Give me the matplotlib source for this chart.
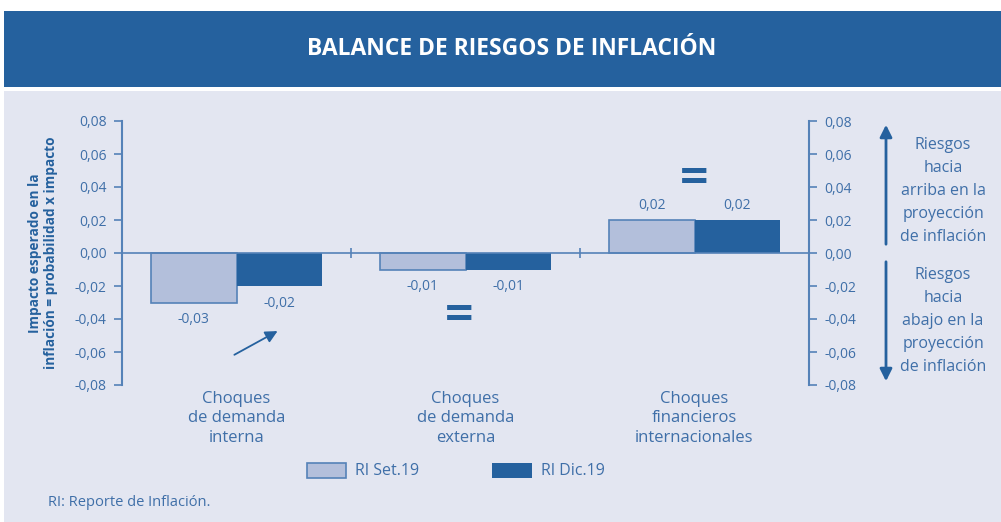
import numpy as np
import matplotlib
matplotlib.use('Agg')
import matplotlib.pyplot as plt
from matplotlib.patches import Rectangle, FancyArrowPatch

# datos
categorias = ["Choques\nde demanda\ninterna", "Choques\nde demanda\nexterna",
              "Choques\nfinancieros\ninternacionales"]
ri_set19 = [-0.03, -0.01, 0.02]
ri_dic19 = [-0.02, -0.01, 0.02]
etiq_set = ["-0,03", "-0,01", "0,02"]
etiq_dic = ["-0,02", "-0,01", "0,02"]
yticks = [-0.08, -0.06, -0.04, -0.02, 0.0, 0.02, 0.04, 0.06, 0.08]

azul = '#25619E'
claro = '#B3BFDB'
borde = '#5582B8'
texto = '#3F6FA8'
fondo = '#E3E6F1'

plt.rcParams['font.family'] = ['Open Sans', 'DejaVu Sans']

W, H = 1001, 522
fig = plt.figure(figsize=(W/100, H/100), dpi=100)
fig.patch.set_facecolor('white')
fig.patches.append(Rectangle((4/W, 0), 1, 1 - 91/H, transform=fig.transFigure,
                             facecolor=fondo, edgecolor='none', zorder=-2))
fig.patches.append(Rectangle((4/W, 1 - 87/H), 1, 76/H, transform=fig.transFigure,
                             facecolor=azul, edgecolor='none', zorder=-2))
fig.text(512/W, 1 - 49/H, "BALANCE DE RIESGOS DE INFLACIÓN", color='white',
         fontsize=16.5, fontweight='bold', ha='center', va='center')

def fmt(t):
    s = f"{t:.2f}".replace('.', ',')
    return '0,00' if s == '-0,00' else s

ax = fig.add_axes([122/W, 1 - 385/H, (809 - 122)/W, (385 - 121)/H])
ax.set_facecolor('none')
x = np.arange(len(categorias))
w = 0.375
ax.bar(x - w/2, ri_set19, w, color=claro, edgecolor=borde, linewidth=1.2, zorder=2)
ax.bar(x + w/2, ri_dic19, w, color=azul, edgecolor='none', zorder=2)
ax.axhline(0, color=borde, lw=1.2, zorder=3)
ax.plot(x[:-1] + 0.5, np.zeros(len(x) - 1), ls='none', marker='|', ms=7,
        mew=1.2, color=borde, zorder=3)

for i in range(len(x)):
    for xv, v, t in [(x[i] - w/2, ri_set19[i], etiq_set[i]), (x[i] + w/2, ri_dic19[i], etiq_dic[i])]:
        off = 0.0045 if v > 0 else -0.006
        ax.text(xv, v + off, t, ha='center', va='bottom' if v > 0 else 'top',
                fontsize=10, color=texto)

ax.set_xlim(-0.5, 2.5)
ax.set_ylim(-0.08, 0.08)
ax.set_yticks(yticks)
ax.set_yticklabels([fmt(t) for t in yticks])
ax.set_xticks([])
for s in ['top', 'right', 'bottom']:
    ax.spines[s].set_visible(False)
ax.spines['left'].set_color(borde)
ax.spines['left'].set_linewidth(1.5)
ax.tick_params(axis='y', colors=borde, labelcolor=texto, labelsize=10,
               length=6, width=1.2, pad=5)

ax.set_ylabel("Impacto esperado en la\ninflación = probabilidad x impacto",
              fontsize=9.8, fontweight='bold', color=azul, labelpad=12, linespacing=1.15)

ax2 = ax.twinx()
ax2.set_ylim(-0.08, 0.08)
ax2.set_yticks(yticks)
ax2.set_yticklabels([fmt(t) for t in yticks])
for s in ['top', 'left', 'bottom']:
    ax2.spines[s].set_visible(False)
ax2.spines['right'].set_color(borde)
ax2.spines['right'].set_linewidth(1.5)
ax2.tick_params(axis='y', colors=borde, labelcolor=texto, labelsize=10,
                length=6, width=1.2, pad=5)

# etiquetas de categorias
for i, c in enumerate(categorias):
    ax.text(x[i], -0.0835, c, ha='center', va='top', fontsize=12,
            color=texto, linespacing=1.3)

# signos y flecha
ax.text(x[1] - 0.03, -0.039, "=", ha='center', va='center', fontsize=36,
        color=azul, fontweight='bold')
ax.text(x[2], 0.0445, "=", ha='center', va='center', fontsize=36,
        color=azul, fontweight='bold')
ax.annotate("", xy=(x[0] + 0.19, -0.0465), xytext=(x[0] - 0.02, -0.0625),
            arrowprops=dict(arrowstyle='-|>', color=azul, lw=1.3, mutation_scale=18))

# flechas y texto de la derecha
fig.patches.append(FancyArrowPatch(
    (886/W, 1 - 247/H), (886/W, 1 - 122/H), transform=fig.transFigure,
    arrowstyle='-|>', mutation_scale=18, color=azul, lw=2))
fig.patches.append(FancyArrowPatch(
    (886/W, 1 - 259/H), (886/W, 1 - 384/H), transform=fig.transFigure,
    arrowstyle='-|>', mutation_scale=18, color=azul, lw=2))
fig.text(943/W, 1 - 191/H, "Riesgos\nhacia\narriba en la\nproyección\nde inflación",
         ha='center', va='center', fontsize=11.5, color=texto, linespacing=1.58)
fig.text(943/W, 1 - 321/H, "Riesgos\nhacia\nabajo en la\nproyección\nde inflación",
         ha='center', va='center', fontsize=11.5, color=texto, linespacing=1.58)

# leyenda
fig.patches.append(Rectangle((307/W, 1 - 478/H), 39/W, 15/H, transform=fig.transFigure,
                             facecolor=claro, edgecolor=borde, lw=1.2))
fig.text(355/W, 1 - 471/H, "RI Set.19", fontsize=11.5, color=texto, va='center')
fig.patches.append(Rectangle((492/W, 1 - 478/H), 40/W, 15/H, transform=fig.transFigure,
                             facecolor=azul, edgecolor='none'))
fig.text(541/W, 1 - 471/H, "RI Dic.19", fontsize=11.5, color=texto, va='center')

fig.text(48/W, 1 - 503/H, "RI: Reporte de Inflación.", fontsize=10.5, color=texto, va='center')

fig.savefig("out.png", dpi=100, facecolor=fig.get_facecolor())
